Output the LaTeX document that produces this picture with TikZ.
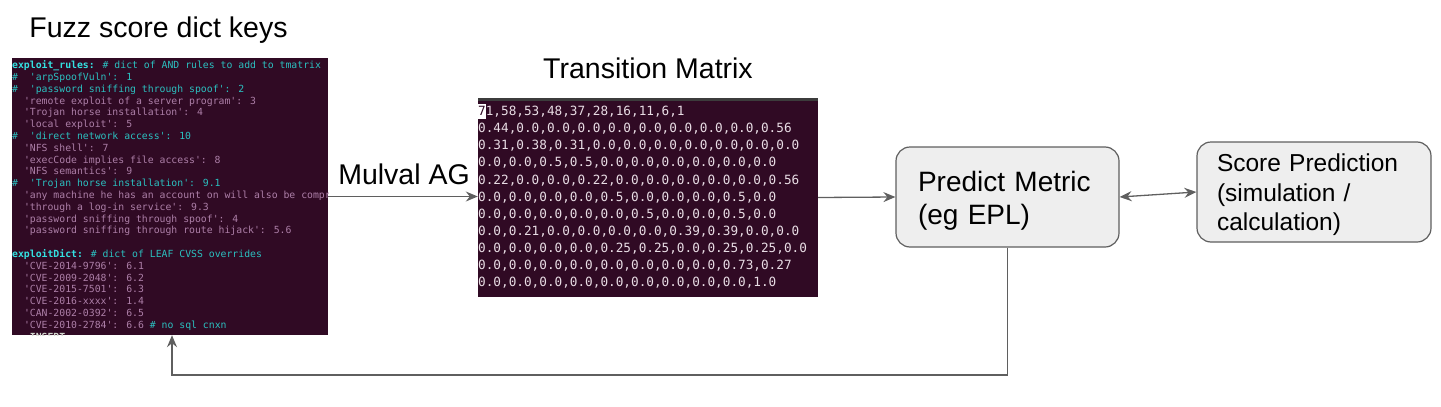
\documentclass[tikz,border=0pt]{standalone}
\usepackage{fontspec}
\setmainfont{Liberation Sans}
\newfontfamily\termfont{DejaVu Sans Mono}
\usetikzlibrary{arrows.meta,positioning}
\definecolor{termBg}{HTML}{300A24}
\definecolor{termKey}{HTML}{34E2E2}
\definecolor{termCmt}{HTML}{2BC0C0}
\definecolor{termStr}{HTML}{AD7FA8}
\definecolor{matText}{HTML}{E8DCE4}
\definecolor{barGray}{HTML}{3C3C3C}
\definecolor{insertGray}{HTML}{D3D7CF}
\definecolor{boxFill}{HTML}{EEEEEE}
\definecolor{boxBorder}{HTML}{5F5F5F}
\definecolor{arrowGray}{HTML}{5F5F5F}
\newcommand{\keyc}[1]{{\bfseries\color{termKey}#1}}
\newcommand{\cmt}[1]{{\color{termCmt}#1}}
\newcommand{\cursor}[1]{\rlap{\smash{\color{white}\rule[-3.5pt]{7.63pt}{15pt}}}{\color{termBg}#1}}

\begin{document}
\begin{tikzpicture}[
  x=1pt, y=-1pt,
  font=\fontsize{28.5}{34}\selectfont,
  >={Stealth[length=12pt,width=10pt,inset=4pt]},
  title/.style={inner sep=0pt, anchor=base},
  termbox/.style={fill=termBg, inner sep=0pt},
  termtext/.style={inner sep=0pt, align=left, anchor=north west},
  metricbox/.style={draw=boxBorder, fill=boxFill, rounded corners=14pt, line width=1.2pt,
    inner ysep=0pt, minimum height=100pt, align=left},
  flow/.style={draw=arrowGray, line width=1.3pt, ->}
]
  \useasboundingbox (0,0) rectangle (1441,407);

  % titles
  \node[title] (fuzztitle) at (158.5,37.3) {Fuzz score dict keys};
  \node[title] (tmtitle) at (648,78) {Transition Matrix};

  % fuzz score terminal
  \node[termbox, minimum width=316pt, minimum height=277pt] (rules) at (170,196.5) {};
  \begin{scope}
    \clip (rules.north west) rectangle (rules.south east);
    \node[termtext, text=termStr, font=\termfont\fontsize{9.8}{11.8}\selectfont] (rulestext) at (12,60.5) {%
      \keyc{exploit\_rules:} \cmt{\# dict of AND rules to add to tmatrix}\\
      \cmt{\#~~'arpSpoofVuln': 1}\\
      \cmt{\#~~'password sniffing through spoof': 2}\\
      ~~'remote exploit of a server program': 3\\
      ~~'Trojan horse installation': 4\\
      ~~'local exploit': 5\\
      \cmt{\#~~'direct network access': 10}\\
      ~~'NFS shell': 7\\
      ~~'execCode implies file access': 8\\
      ~~'NFS semantics': 9\\
      \cmt{\#~~'Trojan horse installation': 9.1}\\
      ~~'any machine he has an account on will also be compromised\\
      ~~'through a log-in service': 9.3\\
      ~~'password sniffing through spoof': 4\\
      ~~'password sniffing through route hijack': 5.6\\
      ~\\
      \keyc{exploitDict:} \cmt{\# dict of LEAF CVSS overrides}\\
      ~~'CVE-2014-9796': 6.1\\
      ~~'CVE-2009-2048': 6.2\\
      ~~'CVE-2015-7501': 6.3\\
      ~~'CVE-2016-xxxx': 1.4\\
      ~~'CAN-2002-0392': 6.5\\
      ~~'CVE-2010-2784': 6.6 \cmt{\# no sql cnxn}\\
      {\bfseries\color{insertGray}-- INSERT --}};
  \end{scope}

  % transition matrix terminal
  \node[termbox, minimum width=340pt, minimum height=199pt] (tmat) at (648,197.5) {};
  \fill[barGray] (tmat.north west) rectangle ([shift={(0,3)}]tmat.north east);
  \begin{scope}
    \clip (tmat.north west) rectangle (tmat.south east);
    \node[termtext, text=matText, font=\termfont\fontsize{12.7}{17.1}\selectfont] (tmattext) at (478,106) {%
      \cursor{7}1,58,53,48,37,28,16,11,6,1\\
      0.44,0.0,0.0,0.0,0.0,0.0,0.0,0.0,0.0,0.56\\
      0.31,0.38,0.31,0.0,0.0,0.0,0.0,0.0,0.0,0.0\\
      0.0,0.0,0.5,0.5,0.0,0.0,0.0,0.0,0.0,0.0\\
      0.22,0.0,0.0,0.22,0.0,0.0,0.0,0.0,0.0,0.56\\
      0.0,0.0,0.0,0.0,0.5,0.0,0.0,0.0,0.5,0.0\\
      0.0,0.0,0.0,0.0,0.0,0.5,0.0,0.0,0.5,0.0\\
      0.0,0.21,0.0,0.0,0.0,0.0,0.39,0.39,0.0,0.0\\
      0.0,0.0,0.0,0.0,0.25,0.25,0.0,0.25,0.25,0.0\\
      0.0,0.0,0.0,0.0,0.0,0.0,0.0,0.0,0.73,0.27\\
      0.0,0.0,0.0,0.0,0.0,0.0,0.0,0.0,0.0,1.0};
  \end{scope}

  % metric boxes
  \node[metricbox, text width=179pt, inner xsep=22pt, font=\fontsize{28}{33}\selectfont] (metric) at (1007.5,197) {\rule{0pt}{28pt}Predict Metric\\(eg EPL)};
  \node[metricbox, text width=194pt, inner xsep=20pt, font=\fontsize{24.5}{29.5}\selectfont] (score) at (1314,192) {\rule{0pt}{23.5pt}Score Prediction\\(simulation /\\calculation)};

  % connectors
  \draw[flow] (rules.east) -- (rules.east -| tmat.west);
  \node[title] (mulval) at (404,184) {Mulval AG};
  \draw[flow] (tmat.east) -- (metric.west);
  \draw[flow, <->] (metric.east) -- (score.west);
  \coordinate (loopcorner) at (172,375);
  \draw[flow] (metric.south) |- (loopcorner) -- (loopcorner |- rules.south);
\end{tikzpicture}
\end{document}
